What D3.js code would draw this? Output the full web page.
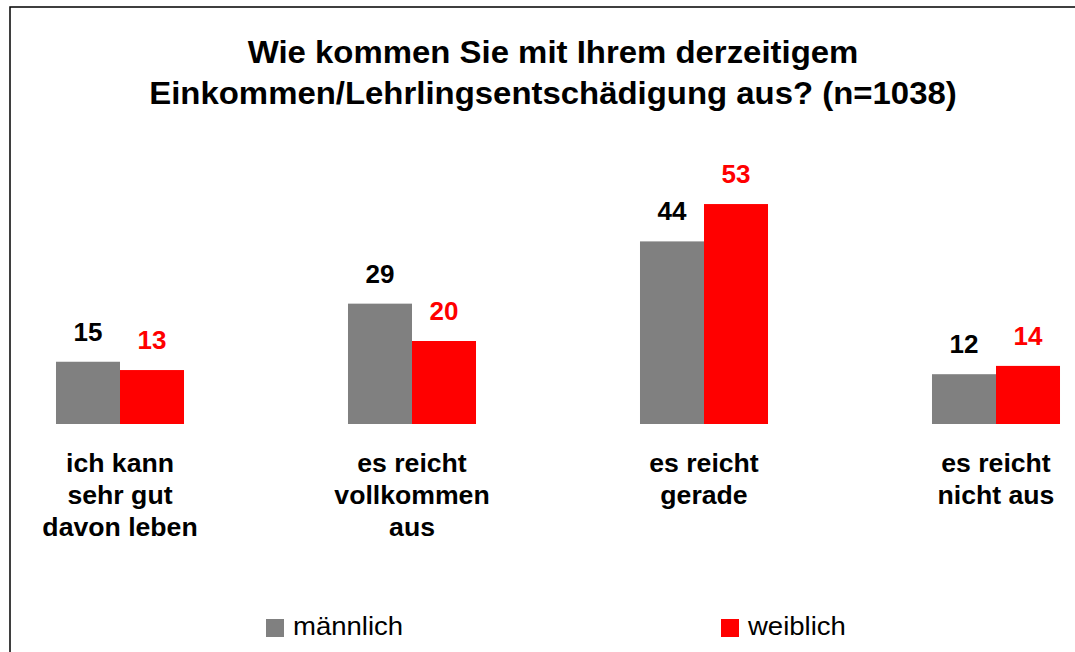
<!DOCTYPE html>
<html><head><meta charset="utf-8">
<script src="https://cdn.jsdelivr.net/npm/d3@7"></script>
<style>body{margin:0;background:#fff;} svg{display:block;}</style>
</head><body>
<svg id="chart" width="1075" height="652"></svg>
<script>
const titleLines = ["Wie kommen Sie mit Ihrem derzeitigem", "Einkommen/Lehrlingsentschädigung aus? (n=1038)"];
const categories = ["ich kann sehr gut davon leben", "es reicht vollkommen aus", "es reicht gerade", "es reicht nicht aus"];
const categoryLines = [["ich kann", "sehr gut", "davon leben"], ["es reicht", "vollkommen", "aus"], ["es reicht", "gerade"], ["es reicht", "nicht aus"]];
const seriesNames = ["männlich", "weiblich"];
const maennlich = [15, 29, 44, 12];
const weiblich = [13, 20, 53, 14];
const colors = ["#808080", "#ff0000"];
const labelColors = ["#000000", "#ff0000"];

const svg = d3.select("#chart");
const font = "'Liberation Sans', Arial, sans-serif";

// frame
svg.append("rect").attr("x", 10).attr("y", 7).attr("width", 1200).attr("height", 800)
  .attr("fill", "none").attr("stroke", "#000").attr("stroke-width", 1.5);

// title
svg.append("g").selectAll("text").data(titleLines).join("text")
  .attr("transform", (d, i) => `translate(553,${63 + i * 41}) scale(1.062,1)`)
  .attr("text-anchor", "middle").attr("font-family", font)
  .attr("font-weight", "bold").attr("font-size", 31).attr("fill", "#000")
  .text(d => d);

const baseline = 424;
const x = d3.scaleBand().domain(categories).range([-26, 1142]).paddingInner(0.5616).paddingOuter(0.2808);
const xs = d3.scaleBand().domain(seriesNames).range([0, x.bandwidth()]);
const y = d3.scaleLinear().domain([0, 60]).range([baseline, baseline - 60 * 4.15]);

const data = categories.map((c, i) => ({cat: c, vals: [maennlich[i], weiblich[i]]}));

const groups = svg.append("g").selectAll("g").data(data).join("g")
  .attr("transform", d => `translate(${x(d.cat)},0)`);

groups.selectAll("rect").data(d => d.vals.map((v, j) => ({s: seriesNames[j], v, j}))).join("rect")
  .attr("x", d => xs(d.s)).attr("width", xs.bandwidth())
  .attr("y", d => y(d.v)).attr("height", d => y(0) - y(d.v))
  .attr("fill", d => colors[d.j]);

groups.selectAll("text.val").data(d => d.vals.map((v, j) => ({s: seriesNames[j], v, j}))).join("text")
  .attr("class", "val")
  .attr("x", d => xs(d.s) + xs.bandwidth() / 2).attr("y", d => y(d.v) - 21)
  .attr("text-anchor", "middle").attr("font-family", font).attr("font-weight", "bold")
  .attr("font-size", 26).attr("fill", d => labelColors[d.j])
  .text(d => d.v);

// category labels
groups.each(function(d, i) {
  d3.select(this).selectAll("text.cat").data(categoryLines[i]).join("text")
    .attr("class", "cat")
    .attr("transform", (t, k) => `translate(${x.bandwidth() / 2},${472 + k * 32}) scale(1.065,1)`)
    .attr("text-anchor", "middle").attr("font-family", font).attr("font-weight", "bold")
    .attr("font-size", 25).attr("fill", "#000")
    .text(t => t);
});

// legend
const legendX = [266, 721];
const leg = svg.append("g").selectAll("g").data(seriesNames).join("g")
  .attr("transform", (d, i) => `translate(${legendX[i]},619)`);
leg.append("rect").attr("width", 18).attr("height", 18).attr("fill", (d, i) => colors[i]);
leg.append("text").attr("transform", "translate(27,16) scale(1.08,1)").attr("font-family", font)
  .attr("font-size", 25.5).attr("fill", "#000").text(d => d);
</script>
</body></html>
